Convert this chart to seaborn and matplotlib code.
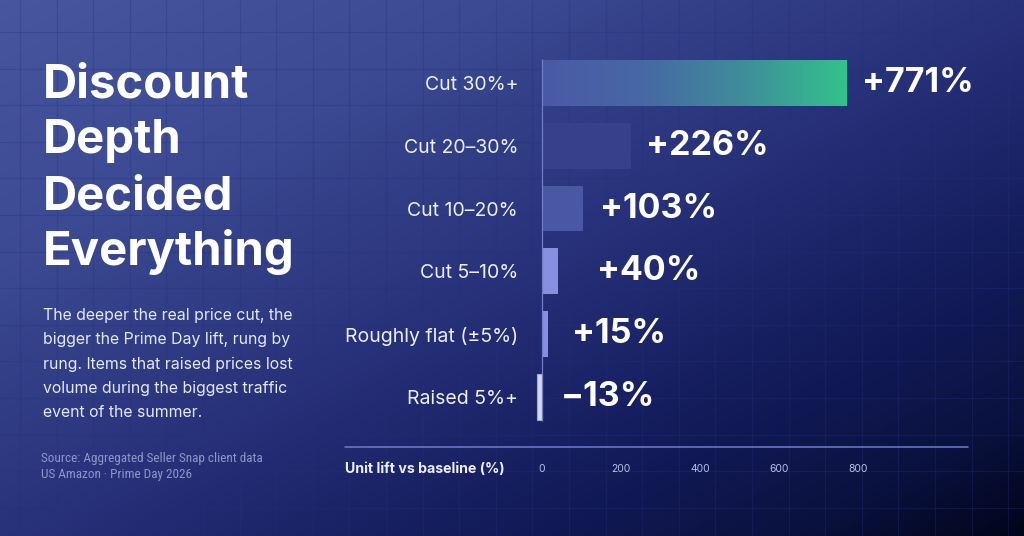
import numpy as np
import matplotlib
matplotlib.use("Agg")
import matplotlib.pyplot as plt
from matplotlib import font_manager as fm
from matplotlib.colors import LinearSegmentedColormap
from matplotlib.lines import Line2D
import seaborn as sns

# data
categories = ["Cut 30%+", "Cut 20\u201330%", "Cut 10\u201320%", "Cut 5\u201310%",
              "Roughly flat (\u00b15%)", "Raised 5%+"]
lift = [771, 226, 103, 40, 15, -13]
ticks = [0, 200, 400, 600, 800]

title_lines = ["Discount", "Depth", "Decided", "Everything"]
body_lines = ["The deeper the real price cut, the",
              "bigger the Prime Day lift, rung by",
              "rung. Items that raised prices lost",
              "volume during the biggest traffic",
              "event of the summer."]
source_lines = ["Source: Aggregated Seller Snap client data",
                "US Amazon \u00b7 Prime Day 2026"]
axis_title = "Unit lift vs baseline (%)"

# styling
bar_colors = ["#4a59a6", "#37418b", "#4a58a3", "#8790e0", "#8790e0", "#d6d9ea"]
label_gap = [15, 15, 17, 39, 24, 19]   # px between bar end and value label
W, H = 1024, 536

sns.set_style("white")
plt.rcParams["font.family"] = ["Inter", "DejaVu Sans"]

# pick a narrow face for the source note if one is installed
names = {f.name for f in fm.fontManager.ttflist}
narrow = [n for n in ["Liberation Sans Narrow", "DejaVu Sans Condensed", "Roboto Condensed",
                      "Open Sans Condensed", "Noto Sans Condensed"] if n in names]
narrow_family = narrow[:1] + ["Roboto", "DejaVu Sans"]
narrow_size = 9.5 if narrow else 8.2

fig = plt.figure(figsize=(W / 100, H / 100), dpi=100)
fig.patch.set_facecolor("#1a2263")


def fx(px):
    return px / W


def fy(py):
    return 1 - py / H


# background gradient + grid
bg = fig.add_axes([0, 0, 1, 1], zorder=-10)
yy, xx = np.mgrid[0:H, 0:W]
d = (xx / W + yy / H) / 2
stops = [(0.0, "#46569f"), (0.25, "#3b4a92"), (0.5, "#28327a"),
         (0.72, "#141c5c"), (0.88, "#0a1240"), (1.0, "#01051a")]
bg_cmap = LinearSegmentedColormap.from_list("bg", stops)
bg.imshow(bg_cmap(d)[..., :3], extent=[0, W, H, 0], aspect="auto", interpolation="bilinear")
for gx in np.arange(20, W, 36.6):
    bg.axvline(gx, color="#26317a", alpha=0.3, lw=0.8)
for gy in np.arange(32, H, 36.6):
    bg.axhline(gy, color="#26317a", alpha=0.3, lw=0.8)
bg.set_xlim(0, W)
bg.set_ylim(H, 0)
bg.axis("off")

# chart axes: zero at 542px, 0.395 px per unit
scale = 0.395
zero_px = 542
ax_left, ax_right = 530, 968
ax_top, ax_bottom = 51.6, 447
ax = fig.add_axes([fx(ax_left), fy(ax_bottom), fx(ax_right - ax_left), (ax_bottom - ax_top) / H])
ax.set_facecolor("none")

sns.barplot(x=lift, y=categories, hue=categories, palette=bar_colors, legend=False,
            width=0.73, orient="h", ax=ax, saturation=1, linewidth=0, edgecolor="none")

# gradient on the top bar
top = ax.patches[0]
x0, y0, w, h = top.get_x(), top.get_y(), top.get_width(), top.get_height()
grad_cmap = LinearSegmentedColormap.from_list("g", ["#4a59a6", "#4768a4", "#3f8e9a", "#33c28b"])
ax.imshow(np.linspace(0, 1, 256)[None, :], cmap=grad_cmap, aspect="auto",
          extent=[x0, x0 + w, y0 + h, y0], clip_path=top, zorder=top.get_zorder())
top.set_facecolor("none")
ax.patches[-1].set_edgecolor("#a3a9cc")
ax.patches[-1].set_linewidth(0.8)

xmin = -(zero_px - ax_left) / scale
xmax = (ax_right - zero_px) / scale
ax.set_xlim(xmin, xmax)
ax.set_ylim(5.8, -0.5)

ax.vlines(0, -0.38, 5.38, color="#6f7cc8", lw=0.9, zorder=5)

# value labels
for i, v in enumerate(lift):
    txt = ("+" if v > 0 else "\u2212") + f"{abs(v)}%"
    ax.annotate(txt, xy=(max(v, 0), i), xytext=(label_gap[i] * 0.72, 0),
                textcoords="offset points", va="center", ha="left",
                fontsize=24.5, fontweight="bold", color="white")

ax.set_xticks(ticks)
ax.set_xticklabels([str(t) for t in ticks], fontsize=7.5, color="#b8c0e8")
ax.tick_params(axis="x", length=0, pad=12)
ax.tick_params(axis="y", length=0, pad=8.6, labelsize=14, labelcolor="#eceef8")
ax.set_xlabel("")
ax.set_ylabel("")
ax.grid(False)
sns.despine(ax=ax, left=True, bottom=True)

# bottom rule across the chart column
fig.add_artist(Line2D([fx(345), fx(968)], [fy(447), fy(447)], color="#6f7cc8", lw=1.1))
fig.text(fx(345), fy(469), axis_title, fontsize=10.2, fontweight="bold",
         color="#eceef8", va="center", ha="left")

# left column text
for i, line in enumerate(title_lines):
    fig.text(fx(43), fy(97 + i * 56), line, fontsize=34, fontweight="bold",
             color="white", va="baseline", ha="left")
for i, line in enumerate(body_lines):
    fig.text(fx(43), fy(320 + i * 24.3), line, fontsize=11.4, color="#e6e9f7",
             va="baseline", ha="left")
for i, line in enumerate(source_lines):
    fig.text(fx(41), fy(462 + i * 16), line, fontsize=narrow_size, family=narrow_family,
             fontstretch="condensed", color="#8d97c9", va="baseline", ha="left")

fig.savefig("out.png", dpi=100)
